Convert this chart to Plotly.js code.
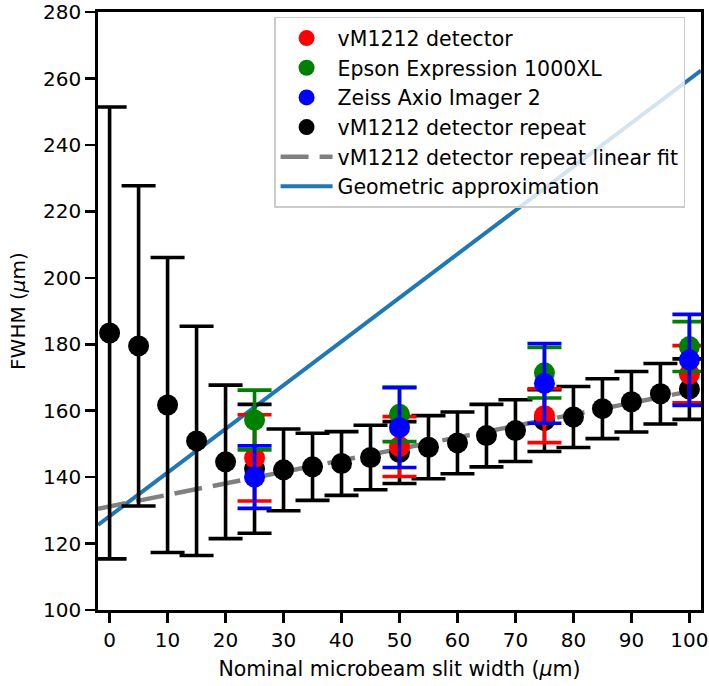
<!DOCTYPE html>
<html>
<head>
<meta charset="utf-8">
<script src="https://cdn.plot.ly/plotly-3.0.1.min.js"></script>
<style>html,body{margin:0;padding:0;background:#fff}#chart{width:709px;height:686px}</style>
</head>
<body>
<div id="chart"></div>
<script>
// Red: vM1212 detector
const redX = [25, 50, 75, 100];
const redY = [145.8, 149.2, 158.5, 171.0];
const redErr = [13.0, 9.0, 8.1, 8.6];
// Green: Epson Expression 1000XL
const greenX = [25, 50, 75, 100];
const greenY = [157.2, 158.9, 171.4, 179.3];
const greenErr = [9.0, 8.2, 7.6, 7.5];
// Blue: Zeiss Axio Imager 2
const blueX = [25, 50, 75, 100];
const blueY = [140.0, 154.9, 168.2, 175.3];
const blueErr = [9.4, 12.0, 12.0, 13.7];
// Black: vM1212 detector repeat
const repX = [0, 5, 10, 15, 20, 25, 30, 35, 40, 45, 50, 55, 60, 65, 70, 75, 80, 85, 90, 95, 100];
const repY = [183.4, 179.5, 161.7, 150.9, 144.6, 142.5, 142.2, 143.1, 144.1, 145.9, 147.4, 149.0, 150.3, 152.5, 154.0, 157.0, 158.1, 160.6, 162.7, 165.1, 166.5];
const repErr = [68.0, 48.2, 44.4, 34.5, 23.1, 19.4, 12.3, 10.1, 9.6, 9.7, 9.3, 9.5, 9.3, 9.4, 9.3, 9.3, 9.2, 9.0, 9.1, 9.1, 9.1];
// Linear fit of the repeat series
const fitX = [-2, 102];
const fitY = [130.5, 166.5];
// Geometric approximation
const geoX = [-2, 102];
const geoY = [125.6, 262.4];

const xTicks = [0, 10, 20, 30, 40, 50, 60, 70, 80, 90, 100];
const yTicks = [100, 120, 140, 160, 180, 200, 220, 240, 260, 280];

const FONT = 'DejaVu Sans, Liberation Sans, sans-serif';

function errTrace(name, x, y, e, color, rank) {
  return {
    type: 'scatter', mode: 'markers', name: name, x: x, y: y,
    legendrank: rank, legendgroup: 'g' + rank,
    marker: {color: color, size: 21, line: {width: 0}},
    error_y: {type: 'data', array: e, visible: true, color: color, thickness: 3.6, width: 17}
  };
}

const traces = [
  {type: 'scatter', mode: 'lines', name: 'Geometric approximation', x: geoX, y: geoY,
   legendrank: 6, legendgroup: 'g6', line: {color: '#1f77b4', width: 4}},
  {type: 'scatter', mode: 'lines', name: 'vM1212 detector repeat linear fit', x: fitX, y: fitY,
   legendrank: 5, legendgroup: 'g5', line: {color: '#808080', width: 4.5, dash: '28px,11px'}},
  errTrace('vM1212 detector repeat', repX, repY, repErr, '#000000', 4),
  errTrace('vM1212 detector', redX, redY, redErr, '#ff0000', 1),
  errTrace('Epson Expression 1000XL', greenX, greenY, greenErr, '#008000', 2),
  errTrace('Zeiss Axio Imager 2', blueX, blueY, blueErr, '#0000ff', 3)
];

const layout = {
  width: 709, height: 686,
  margin: {l: 98, r: 8, t: 12, b: 76},
  paper_bgcolor: '#ffffff', plot_bgcolor: '#ffffff',
  font: {family: FONT, size: 20, color: '#000000'},
  showlegend: true,
  legend: {
    x: 0.292, y: 0.992, xanchor: 'left', yanchor: 'top',
    bgcolor: 'rgba(255,255,255,0.8)', bordercolor: '#cccccc', borderwidth: 1.5,
    font: {family: FONT, size: 20.5, color: '#000000'},
    traceorder: 'grouped', tracegroupgap: 0, itemwidth: 52
  },
  xaxis: {
    range: [-2, 102], tickmode: 'array', tickvals: xTicks, ticktext: xTicks.map(String),
    ticks: 'outside', ticklen: 10, tickwidth: 2.5, tickcolor: '#000',
    showline: true, linecolor: '#000', linewidth: 2.8, mirror: true,
    showgrid: false, zeroline: false,
    tickfont: {family: FONT, size: 20},
    title: {text: 'Nominal microbeam slit width (<i>μ</i>m)', font: {family: FONT, size: 20.5}, standoff: 11}
  },
  yaxis: {
    range: [100, 280.02], tickmode: 'array', tickvals: yTicks, ticktext: yTicks.map(String),
    ticks: 'outside', ticklen: 10, tickwidth: 2.5, tickcolor: '#000',
    showline: true, linecolor: '#000', linewidth: 2.8, mirror: true,
    showgrid: false, zeroline: false,
    tickfont: {family: FONT, size: 20},
    title: {text: 'FWHM (<i>μ</i>m)', font: {family: FONT, size: 20}, standoff: 12}
  }
};

Plotly.newPlot('chart', traces, layout, {displayModeBar: false, staticPlot: true});
</script>
</body>
</html>
